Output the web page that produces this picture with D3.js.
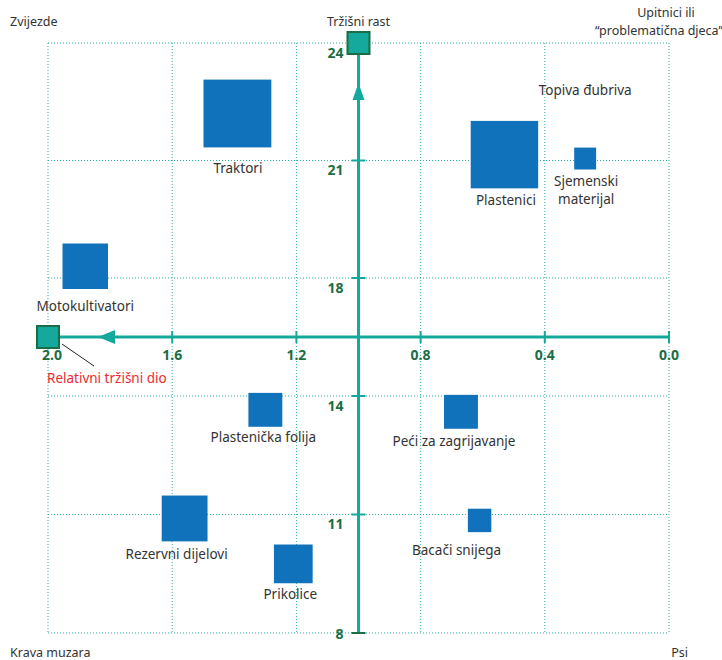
<!DOCTYPE html>
<html>
<head>
<meta charset="utf-8">
<script src="https://cdn.jsdelivr.net/npm/d3@7"></script>
<style>
  html, body { margin: 0; padding: 0; background: #fff; }
  svg { display: block; }
  text { font-family: "Noto Sans", "Open Sans", sans-serif; }
</style>
</head>
<body>
<svg id="chart" width="722" height="660"></svg>
<script>
// Products: relative market share (x), market growth (y), sales volume (square area)
const products = ["Traktori", "Plastenici", "Sjemenski\nmaterijal", "Topiva đubriva",
  "Motokultivatori", "Plastenička folija", "Peći za zagrijavanje",
  "Rezervni dijelovi", "Prikolice", "Bacači snijega"];
const marketShare = [1.39, 0.53, 0.27, 0.27, 1.88, 1.30, 0.67, 1.56, 1.21, 0.61];
const marketGrowth = [22.2, 21.15, 21.05, 22.8, 18.3, 13.65, 13.6, 10.9, 9.75, 10.85];
const sales = [46, 45.5, 4.8, 0, 20.7, 11.5, 11.5, 21, 15, 5.5];

const xTicks = [2.0, 1.6, 1.2, 0.8, 0.4, 0.0];
const yTicks = [24, 21, 18, 14, 11, 8];

// label nudges relative to the square's bottom centre
const labelNudge = [
  [0.5, 20.5], [1.5, 11.5], [1, 12], [0, 0], [0, 17],
  [-2, 10], [-7, 13], [-8, 13], [-3, 11], [-23, 18]
];

const svg = d3.select("#chart");
const teal = "#14a99c", darkGreen = "#1b6d45", blue = "#0f72ba", ink = "#333";

const x = d3.scaleLinear().domain([2.0, 0.0]).range([48, 669]);
// growth axis is split: 8–14 below the crossing, 18–24 above it
const y = d3.scaleLinear().domain([8, 14, 18, 24]).range([633, 396, 278, 43]);
const side = d3.scaleSqrt().domain([0, 100]).range([0, 100]);

const xCross = x(1.0), yCross = (y(14) + y(18)) / 2;

// dotted grid
const grid = svg.append("g")
  .attr("stroke", "#2ab0a5").attr("stroke-width", 1).attr("stroke-dasharray", "1,2");
grid.selectAll("line.v").data(xTicks).join("line").attr("class", "v")
  .attr("x1", d => x(d)).attr("x2", d => x(d))
  .attr("y1", y(24)).attr("y2", y(8));
grid.selectAll("line.h").data(yTicks).join("line").attr("class", "h")
  .attr("x1", x(2.0)).attr("x2", x(0.0))
  .attr("y1", d => y(d)).attr("y2", d => y(d));

// product squares
const rows = products.map((name, i) => ({
  name, x: marketShare[i], y: marketGrowth[i], s: side(sales[i]), nudge: labelNudge[i]
}));
svg.append("g").selectAll("rect").data(rows.filter(d => d.s > 0)).join("rect")
  .attr("x", d => x(d.x) - d.s / 2)
  .attr("y", d => y(d.y) - d.s / 2)
  .attr("width", d => d.s).attr("height", d => d.s)
  .attr("fill", blue);

// product labels
const labels = svg.append("g").attr("font-size", 13.5).attr("fill", ink).attr("text-anchor", "middle");
rows.forEach(d => {
  const cx = x(d.x) + d.nudge[0];
  const cy = y(d.y) + d.s / 2 + d.nudge[1];
  const t = labels.append("text").attr("x", cx).attr("y", cy).attr("dy", "0.35em");
  d.name.split("\n").forEach((line, k) => {
    t.append("tspan").attr("x", cx).attr("dy", k === 0 ? "0.35em" : "1.33em").text(line);
  });
});

// axes
const axes = svg.append("g");
axes.append("line").attr("x1", x(2.0)).attr("x2", x(0.0)).attr("y1", yCross).attr("y2", yCross)
  .attr("stroke", teal).attr("stroke-width", 3);
axes.append("line").attr("x1", xCross).attr("x2", xCross).attr("y1", y(24)).attr("y2", y(8))
  .attr("stroke", teal).attr("stroke-width", 3);

axes.selectAll("line.xt").data(xTicks.slice(1)).join("line").attr("class", "xt")
  .attr("x1", d => x(d)).attr("x2", d => x(d))
  .attr("y1", yCross - 6).attr("y2", yCross + 6)
  .attr("stroke", teal).attr("stroke-width", 2);
axes.selectAll("line.yt").data(yTicks.slice(1)).join("line").attr("class", "yt")
  .attr("x1", xCross - 7).attr("x2", xCross + 7)
  .attr("y1", d => y(d)).attr("y2", d => y(d))
  .attr("stroke", d => d === 8 ? darkGreen : teal).attr("stroke-width", 2);

// direction arrows
axes.append("path")
  .attr("d", `M${xCross},${y(24) + 40} L${xCross - 6},${y(24) + 57} L${xCross + 6},${y(24) + 57} Z`)
  .attr("fill", teal);
axes.append("path")
  .attr("d", `M${x(2.0) + 50},${yCross} L${x(2.0) + 67},${yCross - 7} L${x(2.0) + 67},${yCross + 7} Z`)
  .attr("fill", teal);

// end markers
axes.append("rect").attr("x", xCross - 11).attr("y", y(24) - 11).attr("width", 22).attr("height", 22)
  .attr("fill", teal).attr("stroke", darkGreen).attr("stroke-width", 2);
axes.append("rect").attr("x", x(2.0) - 11).attr("y", yCross - 11).attr("width", 22).attr("height", 22)
  .attr("fill", teal).attr("stroke", darkGreen).attr("stroke-width", 2);

// tick labels
const tl = svg.append("g").attr("font-size", 14).attr("font-weight", "bold").attr("fill", darkGreen);
tl.selectAll("text.xl").data(xTicks).join("text").attr("class", "xl")
  .attr("x", d => x(d) + (d === 2.0 ? 4 : 0)).attr("y", yCross + 18).attr("dy", "0.35em")
  .attr("text-anchor", "middle").text(d => d.toFixed(1));
tl.selectAll("text.yl").data(yTicks).join("text").attr("class", "yl")
  .attr("x", xCross - 15).attr("y", d => y(d) + (d === 8 ? 1 : 10)).attr("dy", "0.35em")
  .attr("text-anchor", "end").text(d => d);

// axis titles
svg.append("text").attr("x", xCross).attr("y", 22).attr("dy", "0.35em")
  .attr("text-anchor", "middle").attr("font-size", 12.5).attr("fill", ink).text("Tržišni rast");
svg.append("line").attr("x1", x(2.0) + 14).attr("y1", yCross + 7).attr("x2", x(2.0) + 46).attr("y2", yCross + 29)
  .attr("stroke", "#222").attr("stroke-width", 1);
svg.append("text").attr("x", 47).attr("y", yCross + 41).attr("dy", "0.35em")
  .attr("font-size", 13.5).attr("fill", "#ee2a30").text("Relativni tržišni dio");

// quadrant names
const q = svg.append("g").attr("font-size", 12.5).attr("fill", ink);
q.append("text").attr("x", 10).attr("y", 22).attr("dy", "0.35em").text("Zvijezde");
q.append("text").attr("x", 666).attr("y", 13).attr("dy", "0.35em").attr("text-anchor", "middle").text("Upitnici ili");
q.append("text").attr("x", 659).attr("y", 31).attr("dy", "0.35em").attr("text-anchor", "middle").text("“problematična djeca”");
q.append("text").attr("x", 10).attr("y", 653).attr("dy", "0.35em").text("Krava muzara");
q.append("text").attr("x", 688).attr("y", 653).attr("dy", "0.35em").attr("text-anchor", "end").text("Psi");
</script>
</body>
</html>
